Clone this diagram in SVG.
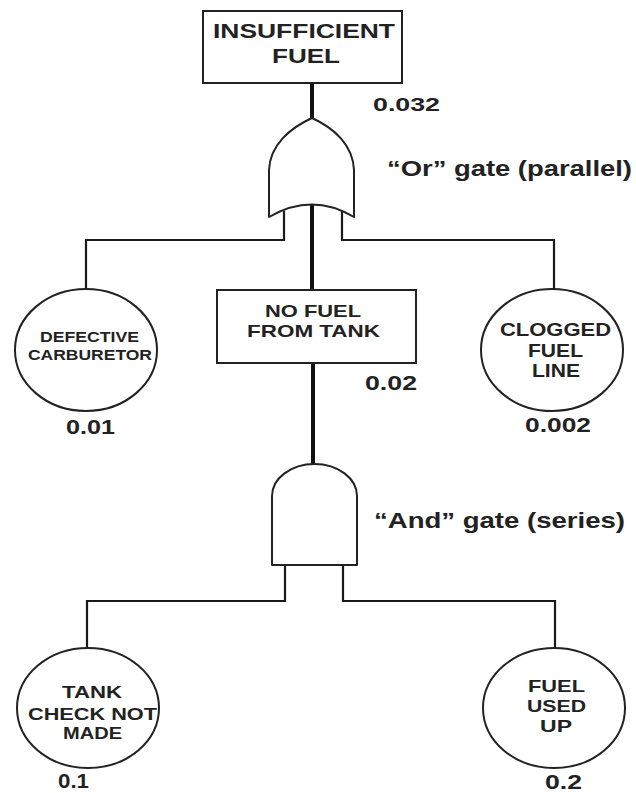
<svg xmlns="http://www.w3.org/2000/svg" width="636" height="793" viewBox="0 0 636 793">
  <style>
    .box { fill: #fff; stroke: #222; stroke-width: 2; }
    .evt { fill: #fff; stroke: #222; stroke-width: 2; }
    .gate { fill: #fff; stroke: #222; stroke-width: 2; stroke-linejoin: round; }
    .wire { fill: none; stroke: #1a1a1a; stroke-width: 2.2; }
    .trunk { fill: none; stroke: #111; stroke-width: 4; }
    text { font-family: "Liberation Sans", Arial, sans-serif; font-weight: bold; fill: #222; }
    .t21 { font-size: 21px; }
    .t20 { font-size: 20px; }
    .t19 { font-size: 19px; }
    .t18 { font-size: 18px; }
    .t17 { font-size: 17px; }
    .t14 { font-size: 14px; }
    .t22 { font-size: 22px; }
  </style>

  <!-- connectors -->
  <g id="connectors">
    <path class="trunk" d="M312,83 V120"/>
    <path class="trunk" d="M312,205 V290"/>
    <path class="trunk" d="M313,363 V465"/>
    <path class="wire" d="M284,211 V240 H86 V289"/>
    <path class="wire" d="M342,211 V240 H554 V289"/>
    <path class="wire" d="M285,565 V601 H87 V648"/>
    <path class="wire" d="M343,565 V601 H555 V648"/>
  </g>

  <!-- top event -->
  <g id="insufficient-fuel">
    <rect class="box" x="203" y="11" width="199" height="72"/>
    <text class="t21" x="213" y="38" textLength="182" lengthAdjust="spacingAndGlyphs">INSUFFICIENT</text>
    <text class="t21" x="272" y="63" textLength="68" lengthAdjust="spacingAndGlyphs">FUEL</text>
    <text class="t19" x="373" y="111" textLength="67" lengthAdjust="spacingAndGlyphs">0.032</text>
  </g>

  <!-- OR gate -->
  <g id="or-gate">
    <path class="gate" d="M312,118 C290,128 270,145 269,170 V217 Q312,192 354,217 V170 C353,145 334,128 312,118 Z"/>
    <text class="t22" x="387" y="176" textLength="245" lengthAdjust="spacingAndGlyphs">“Or” gate (parallel)</text>
  </g>

  <!-- basic event: defective carburetor -->
  <g id="defective-carburetor">
    <ellipse class="evt" cx="86" cy="350" rx="71" ry="61"/>
    <text class="t14" x="40" y="342" textLength="99" lengthAdjust="spacingAndGlyphs">DEFECTIVE</text>
    <text class="t14" x="28" y="360" textLength="124" lengthAdjust="spacingAndGlyphs">CARBURETOR</text>
    <text class="t20" x="66" y="434" textLength="49" lengthAdjust="spacingAndGlyphs">0.01</text>
  </g>

  <!-- intermediate event -->
  <g id="no-fuel-from-tank">
    <rect class="box" x="217" y="290" width="199" height="73"/>
    <text class="t17" x="265" y="317" textLength="96" lengthAdjust="spacingAndGlyphs">NO FUEL</text>
    <text class="t17" x="247" y="337" textLength="133" lengthAdjust="spacingAndGlyphs">FROM TANK</text>
    <text class="t20" x="365" y="390" textLength="52" lengthAdjust="spacingAndGlyphs">0.02</text>
  </g>

  <!-- basic event: clogged fuel line -->
  <g id="clogged-fuel-line">
    <ellipse class="evt" cx="552" cy="350" rx="71" ry="61"/>
    <text class="t18" x="500" y="336" textLength="111" lengthAdjust="spacingAndGlyphs">CLOGGED</text>
    <text class="t18" x="528" y="357" textLength="55" lengthAdjust="spacingAndGlyphs">FUEL</text>
    <text class="t18" x="532" y="377" textLength="48" lengthAdjust="spacingAndGlyphs">LINE</text>
    <text class="t20" x="525" y="432" textLength="66" lengthAdjust="spacingAndGlyphs">0.002</text>
  </g>

  <!-- AND gate -->
  <g id="and-gate">
    <path class="gate" d="M272,565 V496 A42.5,32 0 0 1 357,496 V565 Z"/>
    <text class="t22" x="374" y="528" textLength="251" lengthAdjust="spacingAndGlyphs">“And” gate (series)</text>
  </g>

  <!-- basic event: tank check not made -->
  <g id="tank-check-not-made">
    <ellipse class="evt" cx="88" cy="708" rx="71" ry="60"/>
    <text class="t17" x="62" y="698" textLength="60" lengthAdjust="spacingAndGlyphs">TANK</text>
    <text class="t17" x="28" y="720" textLength="129" lengthAdjust="spacingAndGlyphs">CHECK NOT</text>
    <text class="t17" x="63" y="739" textLength="59" lengthAdjust="spacingAndGlyphs">MADE</text>
    <text class="t20" x="58" y="788" textLength="31" lengthAdjust="spacingAndGlyphs">0.1</text>
  </g>

  <!-- basic event: fuel used up -->
  <g id="fuel-used-up">
    <ellipse class="evt" cx="554" cy="708" rx="71" ry="60"/>
    <text class="t17" x="528" y="692" textLength="57" lengthAdjust="spacingAndGlyphs">FUEL</text>
    <text class="t17" x="527" y="712" textLength="59" lengthAdjust="spacingAndGlyphs">USED</text>
    <text class="t17" x="540" y="732" textLength="32" lengthAdjust="spacingAndGlyphs">UP</text>
    <text class="t20" x="545" y="789" textLength="37" lengthAdjust="spacingAndGlyphs">0.2</text>
  </g>
</svg>
